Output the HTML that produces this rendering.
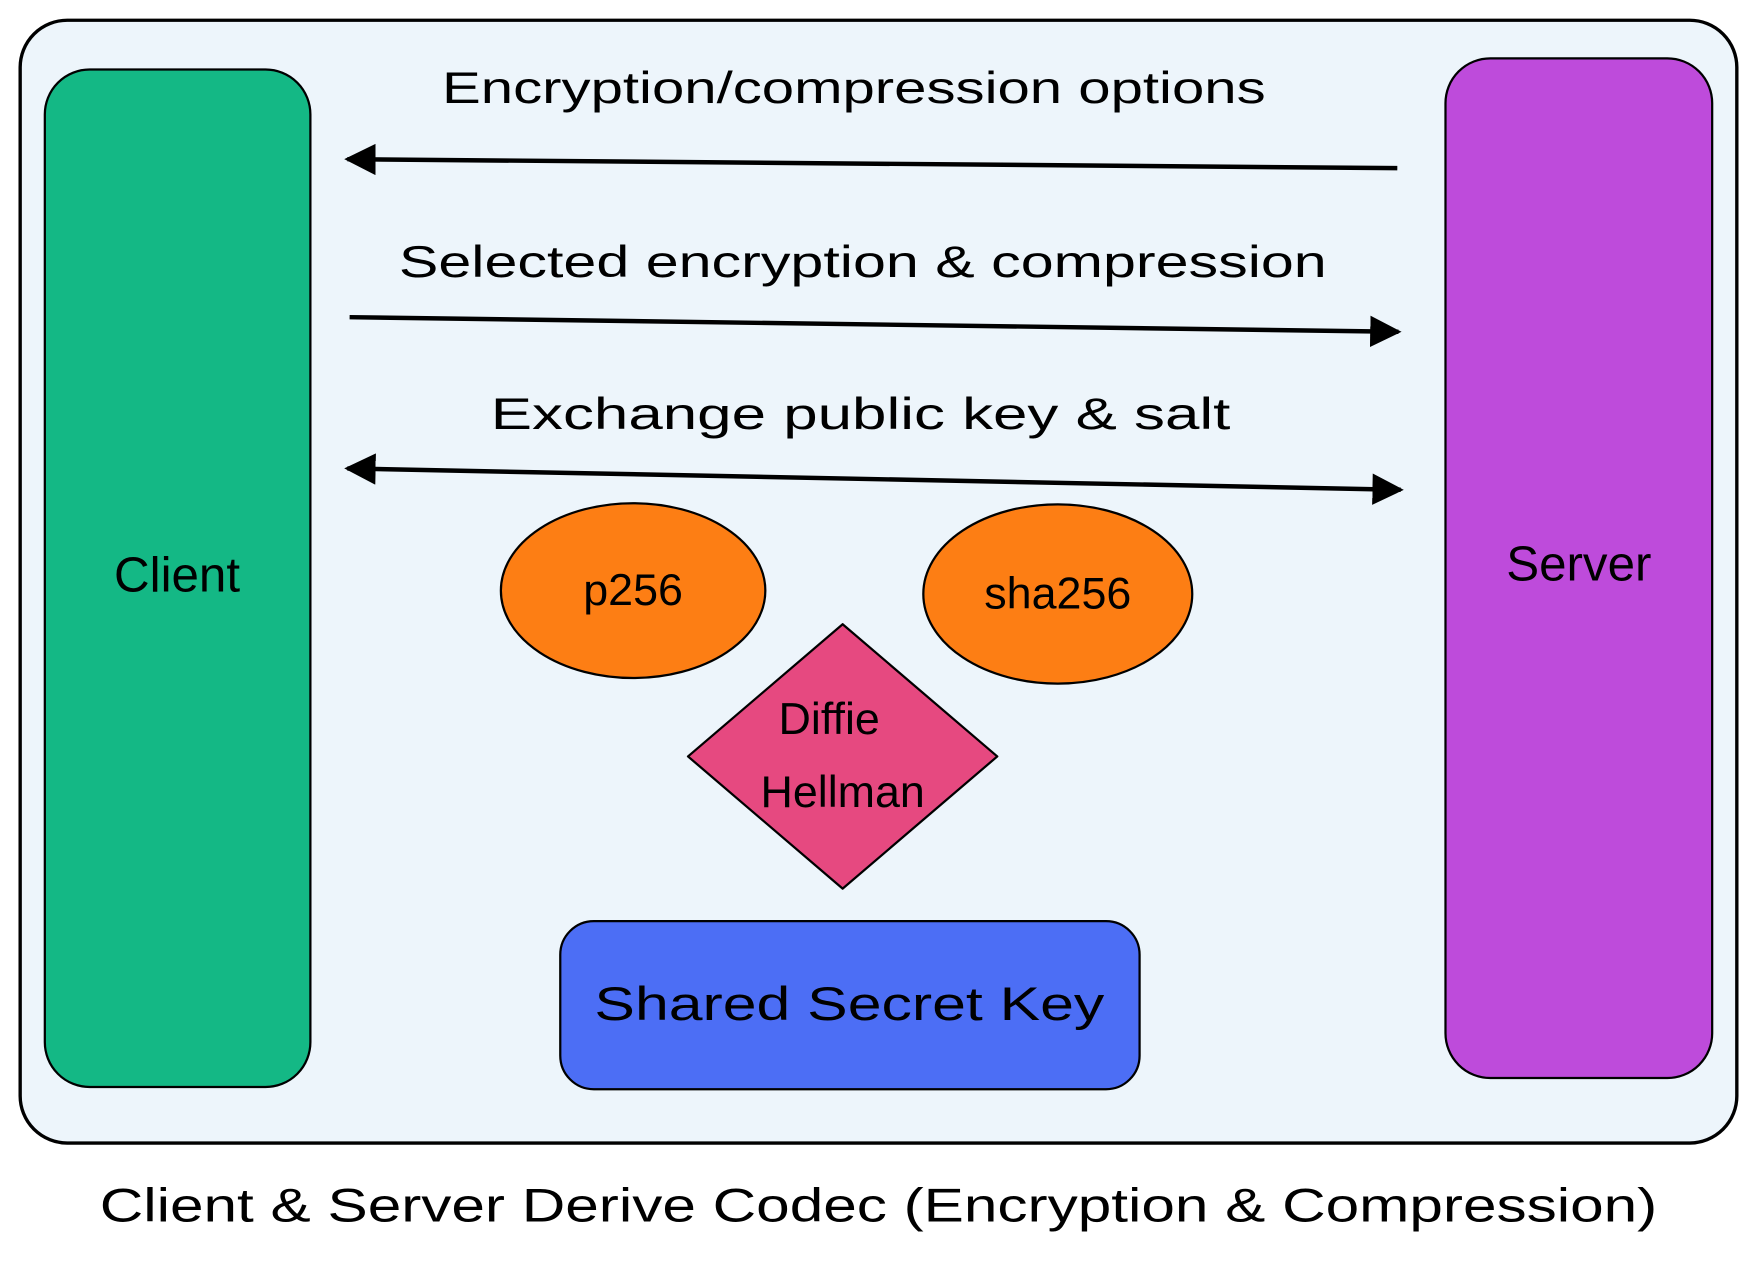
<!DOCTYPE html>
<html><head><meta charset="utf-8"><style>
html,body{margin:0;padding:0;background:#fff;}
svg{display:block;}
text{font-family:"Liberation Sans",sans-serif;fill:#000;}
</style></head><body>
<svg width="1757" height="1263" viewBox="0 0 1568 1127" xmlns="http://www.w3.org/2000/svg">
<defs>
<marker id="ah" viewBox="0 0 10 10" refX="9" refY="5" markerWidth="7" markerHeight="7" orient="auto-start-reverse">
<path d="M0,0 L10,5 L0,10 Z" fill="#000"/></marker>
</defs>
<rect x="18" y="18" width="1532" height="1002" rx="42" fill="#edf5fb" stroke="#000" stroke-width="3"/>
<rect x="40" y="62" width="237" height="908" rx="40" fill="#14b885" stroke="#000" stroke-width="2"/>
<text x="158" y="528" font-size="44" text-anchor="middle">Client</text>
<rect x="1290" y="52" width="238" height="910" rx="40" fill="#be4bdb" stroke="#000" stroke-width="2"/>
<text x="1409" y="518" font-size="44" text-anchor="middle">Server</text>

<text x="762" y="92" font-size="40" text-anchor="middle" textLength="735" lengthAdjust="spacingAndGlyphs">Encryption/compression options</text>
<line x1="1247" y1="150" x2="310" y2="142" stroke="#000" stroke-width="4" marker-end="url(#ah)"/>
<text x="770" y="247" font-size="40" text-anchor="middle" textLength="828" lengthAdjust="spacingAndGlyphs">Selected encryption &amp; compression</text>
<line x1="312" y1="283" x2="1248" y2="296" stroke="#000" stroke-width="4" marker-end="url(#ah)"/>
<text x="768" y="383" font-size="40" text-anchor="middle" textLength="660" lengthAdjust="spacingAndGlyphs">Exchange public key &amp; salt</text>
<line x1="310" y1="418" x2="1250" y2="437" stroke="#000" stroke-width="4" marker-start="url(#ah)" marker-end="url(#ah)"/>

<ellipse cx="565" cy="527" rx="118" ry="78" fill="#fd7e14" stroke="#000" stroke-width="2"/>
<text x="565" y="540" font-size="40" text-anchor="middle">p256</text>
<ellipse cx="944" cy="530" rx="120" ry="80" fill="#fd7e14" stroke="#000" stroke-width="2"/>
<text x="944" y="543" font-size="40" text-anchor="middle">sha256</text>

<path d="M752,557 L890,675 L752,793 L614,675 Z" fill="#e64980" stroke="#000" stroke-width="2" stroke-linejoin="round"/>
<text x="740" y="655" font-size="40" text-anchor="middle">Diffie</text>
<text x="752" y="720" font-size="40" text-anchor="middle">Hellman</text>

<rect x="500" y="822" width="517" height="150" rx="30" fill="#4c6ef5" stroke="#000" stroke-width="2"/>
<text x="758" y="910" font-size="42" text-anchor="middle" textLength="455" lengthAdjust="spacingAndGlyphs">Shared Secret Key</text>

<text x="784" y="1090" font-size="42" text-anchor="middle" textLength="1390" lengthAdjust="spacingAndGlyphs">Client &amp; Server Derive Codec (Encryption &amp; Compression)</text>
</svg>
</body></html>
